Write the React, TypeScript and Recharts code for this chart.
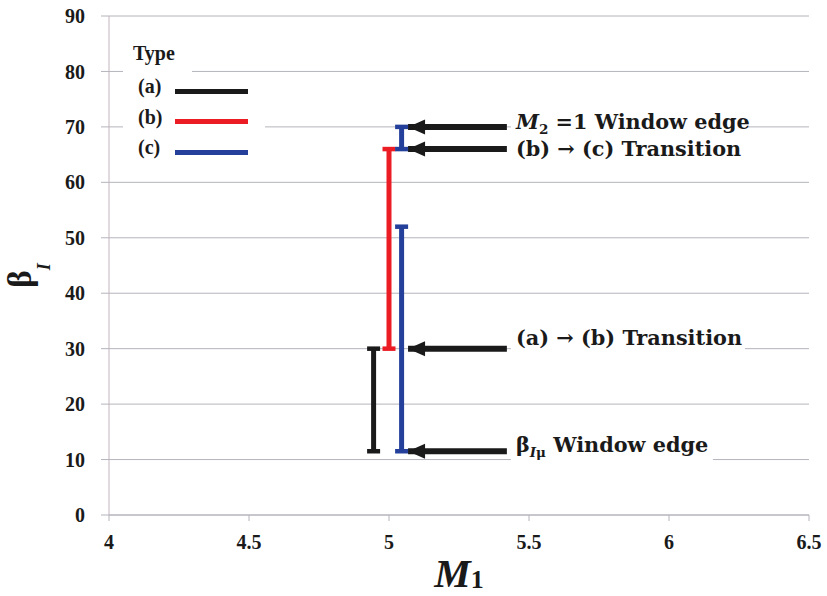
import React from "react";
import { ComposedChart, Line, XAxis, YAxis, CartesianGrid, Legend } from "recharts";

const serif = "'Liberation Serif', 'DejaVu Serif', serif";
const wideSerif = "'DejaVu Serif', 'Liberation Serif', serif";
const ink = "#1a1a1a";
const gridColor = "#b4b4bc";

const xTicks = [4, 4.5, 5, 5.5, 6, 6.5];
const yTicks = [0, 10, 20, 30, 40, 50, 60, 70, 80, 90];

// vertical ranges of beta_I for each type at a given M1
const typeA = [
  { m: 4.945, beta: 11.5 },
  { m: 4.945, beta: 30 },
];
const typeB = [
  { m: 5.0, beta: 30 },
  { m: 5.0, beta: 66 },
];
const typeCLow = [
  { m: 5.045, beta: 11.5 },
  { m: 5.045, beta: 52 },
];
const typeCHigh = [
  { m: 5.045, beta: 66 },
  { m: 5.045, beta: 70 },
];

const legendItems = [
  { name: "(a)", color: "#1a1a1a" },
  { name: "(b)", color: "#ec1c24" },
  { name: "(c)", color: "#24409a" },
];

// annotation arrows: tip at the bar, tail where the text begins
const arrowTip = 5.068;
const arrowTail = 5.421;
const arrowLevels = [70, 66, 30, 11.5];

type Seg = { t: string; i?: boolean; sub?: boolean };
const arrowLabels: Seg[][] = [
  [{ t: "M", i: true }, { t: "2", sub: true }, { t: " =1 Window edge" }],
  [{ t: "(b) \u2192 (c) Transition" }],
  [{ t: "(a) \u2192 (b) Transition" }],
  [{ t: "\u03B2" }, { t: "I", i: true, sub: true }, { t: "\u03BC", sub: true }, { t: " Window edge" }],
];

// text offset above the arrow and white box width (px)
const labelShift = [-5, 0, -11, -6];
const labelBox = [236, 232, 234, 202];

const capDot = (color: string) => (props: any) => {
  const { cx, cy, index } = props;
  return <rect key={`cap-${index}`} x={cx - 6.5} y={cy - 2.25} width={13} height={4.5} fill={color} />;
};

const renderSegs = (segs: Seg[]) => {
  let inSub = false;
  return segs.map((s, k) => {
    let dy = 0;
    if (s.sub && !inSub) dy = 5;
    if (!s.sub && inSub) dy = -5;
    inSub = !!s.sub;
    return (
      <tspan key={k} dy={dy} fontStyle={s.i ? "italic" : "normal"} fontSize={s.sub ? 13.5 : 20.8}>
        {s.t}
      </tspan>
    );
  });
};

const arrowDot = (n: number) => (props: any) => {
  const { cx, cy, index } = props;
  if (index === 0) {
    return (
      <polygon
        key={`head-${n}`}
        points={`${cx},${cy} ${cx + 17},${cy - 7.5} ${cx + 17},${cy + 7.5}`}
        fill={ink}
      />
    );
  }
  const mid = cy + labelShift[n];
  return (
    <g key={`lab-${n}`}>
      <rect x={cx + 4} y={mid - 12} width={labelBox[n]} height={28} fill="#fff" />
      <text x={cx + 9} y={mid + 7} fontFamily={wideSerif} fontWeight="bold" fill={ink}>
        {renderSegs(arrowLabels[n])}
      </text>
    </g>
  );
};

const XTitle = ({ viewBox }: any) => {
  const { x, y, width } = viewBox;
  return (
    <text x={x + width / 2} y={y + 72} textAnchor="middle" fontFamily={serif} fontWeight="bold" fill={ink}>
      <tspan fontStyle="italic" fontSize={41}>M</tspan>
      <tspan fontSize={26} dy={1}>1</tspan>
    </text>
  );
};

const YTitle = ({ viewBox }: any) => {
  const { x, y, height } = viewBox;
  const cx = x + 31;
  const cy = y + height / 2 + 10;
  return (
    <text
      x={cx}
      y={cy}
      transform={`rotate(-90 ${cx} ${cy})`}
      textAnchor="middle"
      fontFamily={serif}
      fontWeight="bold"
      fill={ink}
    >
      <tspan fontSize={33}>{"\u03B2"}</tspan>
      <tspan fontStyle="italic" fontSize={18} dy={19}>I</tspan>
    </text>
  );
};

const LegendBox = () => (
  <div style={{ position: "relative", width: 142, height: 124, fontFamily: serif, fontWeight: "bold", color: ink }}>
    <div style={{ position: "absolute", left: 0, top: 0, width: 69, height: 124, background: "#fff" }} />
    <div style={{ position: "absolute", left: 0, top: 83, width: 142, height: 12, background: "#fff" }} />
    <div style={{ position: "absolute", left: 10, top: 4, fontSize: 20, lineHeight: "22px" }}>Type</div>
    {legendItems.map((it, i) => (
      <React.Fragment key={it.name}>
        <div style={{ position: "absolute", left: 15, top: 37 + 30.5 * i, fontSize: 20, lineHeight: "22px" }}>
          {it.name}
        </div>
        <div
          style={{
            position: "absolute",
            left: 52,
            top: 50.5 + 30.5 * i,
            width: 73,
            height: 5,
            background: it.color,
          }}
        />
      </React.Fragment>
    ))}
  </div>
);

const rangeSeries = [
  { key: "a", data: typeA, color: legendItems[0].color },
  { key: "b", data: typeB, color: legendItems[1].color },
  { key: "c1", data: typeCLow, color: legendItems[2].color },
  { key: "c2", data: typeCHigh, color: legendItems[2].color },
];

export default function App() {
  return (
    <div style={{ position: "absolute", left: 0, top: 0, background: "#fff" }}>
      <ComposedChart width={827} height={596} margin={{ top: 16, right: 18, bottom: 0, left: 0 }}>
        <CartesianGrid vertical={false} stroke={gridColor} />
        <XAxis
          type="number"
          dataKey="m"
          domain={[4, 6.5]}
          ticks={xTicks}
          height={81}
          tickSize={6}
          tickMargin={14}
          stroke={gridColor}
          tick={{ fontSize: 20, fontFamily: serif, fontWeight: "bold", fill: ink }}
          label={<XTitle />}
        />
        <YAxis
          type="number"
          domain={[0, 90]}
          ticks={yTicks}
          width={109}
          tickSize={8}
          tickMargin={16}
          axisLine={{ stroke: "#c6b4be" }}
          tickLine={{ stroke: gridColor }}
          tick={{ fontSize: 20, fontFamily: serif, fontWeight: "bold", fill: ink }}
          label={<YTitle />}
        />
        <Legend
          layout="horizontal"
          verticalAlign="middle"
          align="center"
          content={<LegendBox />}
          wrapperStyle={{ left: 123, top: 38, width: 142, height: 124 }}
        />
        {rangeSeries.map((s) => (
          <Line
            key={s.key}
            data={s.data}
            dataKey="beta"
            stroke={s.color}
            strokeWidth={5}
            dot={capDot(s.color)}
            activeDot={false}
            legendType="none"
            isAnimationActive={false}
          />
        ))}
        {arrowLevels.map((b, n) => (
          <Line
            key={`arrow-${n}`}
            data={[
              { m: arrowTip, beta: b },
              { m: arrowTail, beta: b },
            ]}
            dataKey="beta"
            stroke={ink}
            strokeWidth={6}
            dot={arrowDot(n)}
            activeDot={false}
            legendType="none"
            isAnimationActive={false}
          />
        ))}
      </ComposedChart>
    </div>
  );
}
